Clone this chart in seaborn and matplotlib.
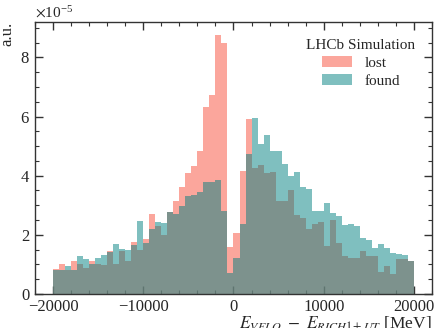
import numpy as np
import pandas as pd
import matplotlib
matplotlib.use("Agg")
import matplotlib.pyplot as plt
import seaborn as sns
from matplotlib.patches import Patch
from matplotlib.ticker import MultipleLocator, ScalarFormatter

# Histogram binning: 60 bins from -20000 to 20000 MeV
bin_low = -20000
bin_high = 20000
n_bins = 60

# Normalised bin contents in units of 1e-5 (a.u.)
lost = [0.83, 1.03, 0.80, 1.13, 1.03, 0.87, 1.11, 1.03, 0.97, 1.47,
        1.03, 1.45, 1.11, 1.77, 1.50, 1.86, 2.72, 2.29, 1.98, 2.78,
        3.14, 3.62, 4.09, 4.32, 4.82, 6.32, 6.74, 8.76, 8.49, 1.59,
        2.07, 4.16, 5.92, 4.25, 4.36, 4.09, 4.14, 3.13, 3.14, 3.51,
        2.66, 2.57, 2.20, 2.37, 2.43, 1.62, 2.49, 1.71, 1.30, 1.22,
        1.22, 1.44, 1.28, 1.28, 0.76, 0.96, 0.69, 1.20, 1.20, 1.10]
found = [0.82, 0.80, 0.93, 0.80, 1.28, 1.17, 1.03, 1.21, 1.31, 1.43,
         1.68, 1.53, 1.48, 1.67, 2.48, 1.71, 2.20, 2.45, 2.40, 2.76,
         2.71, 2.97, 3.33, 3.35, 3.46, 3.80, 3.79, 3.87, 2.80, 0.72,
         1.21, 2.38, 4.72, 5.94, 5.08, 5.38, 4.84, 4.83, 4.41, 3.98,
         4.14, 3.61, 3.55, 2.82, 2.82, 3.08, 2.74, 2.63, 2.35, 2.37,
         2.29, 1.90, 1.84, 1.54, 1.70, 1.55, 1.39, 1.34, 1.31, 1.12]
labels = ["lost", "found"]
scale = 1e-5

edges = np.linspace(bin_low, bin_high, n_bins + 1)
centers = 0.5 * (edges[:-1] + edges[1:])
df_lost = pd.DataFrame({"x": centers, "w": np.array(lost) * scale})
df_found = pd.DataFrame({"x": centers, "w": np.array(found) * scale})

sns.set_style("ticks")
plt.rcParams["font.family"] = ["Liberation Serif", "DejaVu Serif"]
plt.rcParams["mathtext.fontset"] = "stix"
plt.rcParams["font.size"] = 12
plt.rcParams["axes.unicode_minus"] = True

fig = plt.figure(figsize=(4.34, 3.28), dpi=100)
ax = fig.add_axes([35 / 434, 1 - 294 / 328, (432 - 35) / 434, (294 - 22) / 328])

sns.histplot(data=df_lost, x="x", weights="w", bins=n_bins,
             binrange=(bin_low, bin_high),
             element="step", fill=True, color="salmon", alpha=0.7,
             linewidth=0, ax=ax)
sns.histplot(data=df_found, x="x", weights="w", bins=n_bins,
             binrange=(bin_low, bin_high),
             element="step", fill=True, color="teal", alpha=0.5,
             linewidth=0, ax=ax)

ax.set_xlim(-22000, 22000)
ax.set_ylim(0, max(lost) * scale * 1.05)
ax.xaxis.set_major_locator(MultipleLocator(10000))
ax.xaxis.set_minor_locator(MultipleLocator(2000))
ax.yaxis.set_major_locator(MultipleLocator(2e-5))
ax.yaxis.set_minor_locator(MultipleLocator(0.5e-5))
fmt = ScalarFormatter(useMathText=True)
fmt.set_powerlimits((-3, 3))
ax.yaxis.set_major_formatter(fmt)
ax.tick_params(which="both", direction="in", top=True, right=True,
               labelsize=12, color="#333333")
ax.tick_params(which="major", length=6, width=1)
ax.tick_params(which="minor", length=3, width=0.8)
for s in ax.spines.values():
    s.set_linewidth(1.0)
    s.set_color("#333333")

ax.set_ylabel("a.u.", loc="top", fontsize=12, labelpad=3)
ax.set_xlabel(r"$E_{VELO}\ -\ E_{RICH1+UT}$ [MeV]", loc="right",
              fontsize=12.5, labelpad=-0.5)
ax.yaxis.get_offset_text().set_fontsize(11)

handles = [Patch(facecolor="salmon", alpha=0.7, edgecolor="none"),
           Patch(facecolor="teal", alpha=0.5, edgecolor="none")]
leg = ax.legend(handles, labels, title="LHCb Simulation", loc="upper right",
                frameon=False, fontsize=11, title_fontsize=11,
                bbox_to_anchor=(0.985, 0.975), handlelength=2.0,
                handletextpad=0.8, labelspacing=0.25, borderpad=0.2)

fig.savefig("out.png", dpi=100)
